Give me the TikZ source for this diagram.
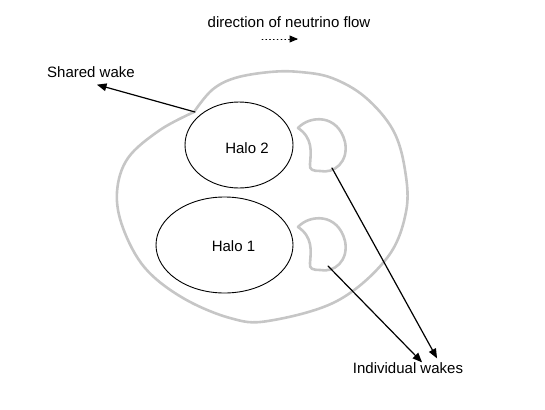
\documentclass[tikz,border=0pt]{standalone}
\usepackage{fontspec}
\setmainfont{Liberation Sans}
\usepackage{tikz}
\usetikzlibrary{arrows,shapes.geometric}

\tikzset{
  halo/.style={draw,ellipse,line width=0.9pt,inner sep=0pt},
  wake/.style={draw=gray!45,line width=2.6pt,line join=round},
  lbl/.style={font=\fontsize{15}{18}\selectfont,inner sep=1pt},
  pointer/.style={->,line width=1.2pt}
}

\begin{document}
\begin{tikzpicture}[line cap=round,line join=round,>=triangle 45,x=1pt,y=-1pt]
\useasboundingbox (0,0) rectangle (545,409);
% shared wake
\draw[wake] plot[smooth,tension=0.6] coordinates {(194,112) (212,90) (235,78) (270,72) (300,72) (332,78) (365,97) (393,130) (405,170) (406,212) (387,258) (337,301) (268,321) (230,318) (183,298) (145,268) (123,228) (117,192) (128,158) (160,130) (194,112)};
\coordinate (cusp) at (195,112);
% halos
\node[halo,minimum width=108,minimum height=86] (halo2) at (239,145) {};
\node[halo,minimum width=137,minimum height=96] (halo1) at (224.5,245) {};
\node[lbl] (t2) at (247,148) {Halo 2};
\node[lbl] (t1) at (233.5,246) {Halo 1};
% individual wakes
\draw[wake] (298,128) .. controls (310,115) and (338,114) .. (345,142) .. controls (349,162) and (334,174) .. (320,171) .. controls (313,171) and (309,170) .. (310,164) .. controls (311,152) and (313,138) .. cycle;
\draw[wake,shift={(0,99)}] (298,128) .. controls (310,115) and (338,114) .. (345,142) .. controls (349,162) and (334,174) .. (320,171) .. controls (313,171) and (309,170) .. (310,164) .. controls (311,152) and (313,138) .. cycle;
\coordinate (w2) at (332,168);
\coordinate (w1) at (328,266);
% labels
\node[lbl] (title) at (289,22) {direction of neutrino flow};
\node[lbl] (sw) at (91,72) {Shared wake};
\node[lbl] (iw) at (408,368) {Individual wakes};
\coordinate (fs) at (262,39);
\coordinate (fe) at (298,39);
\draw[->,dash pattern=on 0.8pt off 3pt,line width=0.9pt] (fs) -- (fe);
\draw[pointer] (cusp) -- ([shift={(6pt,-6pt)}]sw.south);
\draw[pointer] (w2) -- ([shift={(29pt,3pt)}]iw.north);
\draw[pointer] (w1) -- ([shift={(14pt,-1pt)}]iw.north);
\end{tikzpicture}
\end{document}
